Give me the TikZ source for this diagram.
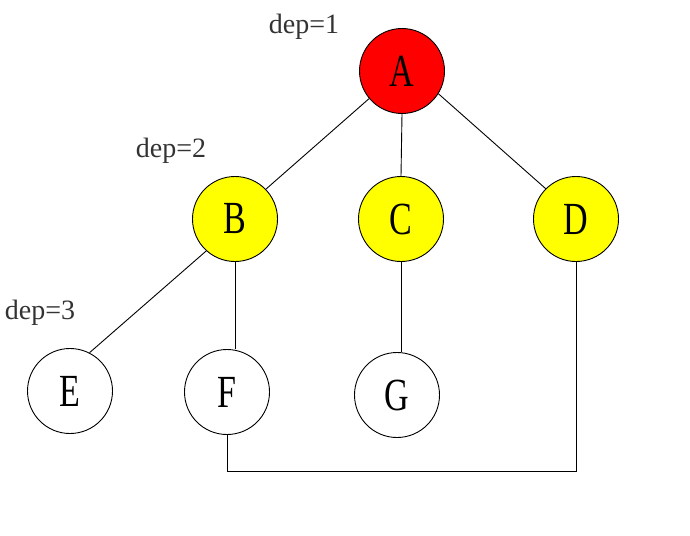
\documentclass[tikz,border=0pt]{standalone}
\usepackage{fontspec}
\setmainfont{Liberation Serif}
\newfontfamily\letterfont[FakeStretch=0.74]{Liberation Serif}
\usetikzlibrary{positioning,calc}
\definecolor{rootred}{RGB}{255,0,0}
\definecolor{levelyellow}{RGB}{255,255,0}

\begin{document}
\begin{tikzpicture}[x=1pt,y=-1pt,line width=0.9pt,
    vertex/.style={circle,draw,minimum size=85pt,inner sep=0pt,
      font=\letterfont\fontsize{46}{46}\selectfont},
    deplabel/.style={font=\fontsize{28}{28}\selectfont,text=black!80}]
    \useasboundingbox (0,0) rectangle (690,535);
    % depth labels
    \node[deplabel] (d1) at (304,27) {dep=1};
    \node[deplabel] (d2) at (171,151) {dep=2};
    \node[deplabel] (d3) at (40,313) {dep=3};
    % level 1
    \node[vertex,fill=rootred] (A) at (402,71) {A};
    % level 2
    \node[vertex,fill=levelyellow] (B) at (235,219) {B};
    \node[vertex,fill=levelyellow] (C) at (401,219) {C};
    \node[vertex,fill=levelyellow] (D) at (576,219) {D};
    % level 3
    \node[vertex] (E) at (70,391) {E};
    \node[vertex] (F) at (227,392) {F};
    \node[vertex] (G) at (397,395) {G};
    % edges
    \draw (A.220) -- (B.44);
    \draw (A.south) -- (C.north);
    \draw (A.328) -- (D.135);
    \draw (B.228) -- (E.63);
    \draw (B.south) -- (B.south |- F.north);
    \draw (C.south) -- (C.south |- G.north);
    \draw (F.south) -- ++(0,36) -| (D.south);
\end{tikzpicture}
\end{document}
